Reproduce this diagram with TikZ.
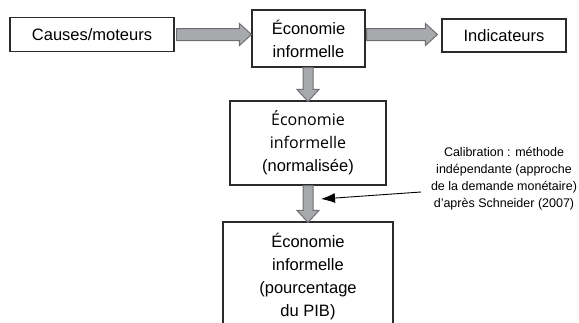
\documentclass[tikz,border=0pt]{standalone}
\usepackage{fontspec}
\setmainfont{Liberation Sans}
\newfontfamily\humfont{Open Sans}
\usetikzlibrary{calc, arrows.meta}
\definecolor{arrowgray}{HTML}{A7A9AC}
\definecolor{arrowedge}{HTML}{6E6F71}
\definecolor{boxedge}{HTML}{2B2B2B}
% fat grey arrows, horizontal and vertical
\newcommand\harrow[2]{\filldraw[fat]let \p1=#1, \p2=#2 in
    (\x1, \y1+6pt)--(\x2-12pt, \y1+6pt)--(\x2-12pt, \y1+11pt)--(\x2, \y1)
    --(\x2-12pt, \y1-11pt)--(\x2-12pt, \y1-6pt)--(\x1, \y1-6pt)--cycle;}
\newcommand\varrow[2]{\filldraw[fat]let \p1=#1, \p2=#2 in
    (\x1-5pt, \y1)--(\x1-5pt, \y2+12pt)--(\x1-11pt, \y2+12pt)--(\x1, \y2)
    --(\x1+11pt, \y2+12pt)--(\x1+5pt, \y2+12pt)--(\x1+5pt, \y1)--cycle;}
\begin{document}
\begin{tikzpicture}[x=1pt, y=-1pt,
    box/.style={draw=boxedge, line width=1.1pt, align=center, inner sep=0pt,
        font=\fontsize{16.5}{23}\selectfont},
    fat/.style={fill=arrowgray, draw=arrowedge, line width=1pt}]
    \useasboundingbox(0, 0) rectangle (579, 322);
    \clip(0, 0) rectangle (579, 322);
    \node[box, minimum width=164pt, minimum height=34pt](causes) at(92, 34.5){Causes/moteurs};
    \node[box, minimum width=113pt, minimum height=57pt](eco) at(308.5, 38.5){Économie\\informelle};
    \node[box, minimum width=124pt, minimum height=33pt](indic) at(504, 35.5){Indicateurs};
    \node[box, minimum width=156pt, minimum height=84pt](norm) at(308, 143)
        {{\humfont\fontsize{16}{23}\selectfont Économie}\\{\humfont\fontsize{16}{23}\selectfont informelle}\\(normalisée)};
    \node[box, minimum width=170pt, minimum height=110pt](pct) at(308, 277)
        {Économie\\informelle\\(pourcentage\\du PIB)};
    \node[align=center, inner sep=0pt, font=\fontsize{12.5}{17}\selectfont](calib) at(504, 178.5)
        {Calibration : méthode\\indépendante (approche\\de la demande monétaire)\\d'après Schneider (2007)};
    \harrow{([xshift=2pt]causes.east)}{(eco.west |- causes.east)}
    \harrow{([xshift=1pt]eco.east |- causes.east)}{([xshift=-4pt]indic.west |- causes.east)}
    \varrow{(norm.north |- eco.south)}{([yshift=-1pt]norm.north)}
    \varrow{(norm.south)}{([yshift=-1pt]pct.north)}
    \coordinate(from) at(421, 192);
    \coordinate(tip) at(321, 199);
    \draw[line width=.9pt, -{Latex[length=14pt, width=10pt]}](from)--(tip);
\end{tikzpicture}
\end{document}
